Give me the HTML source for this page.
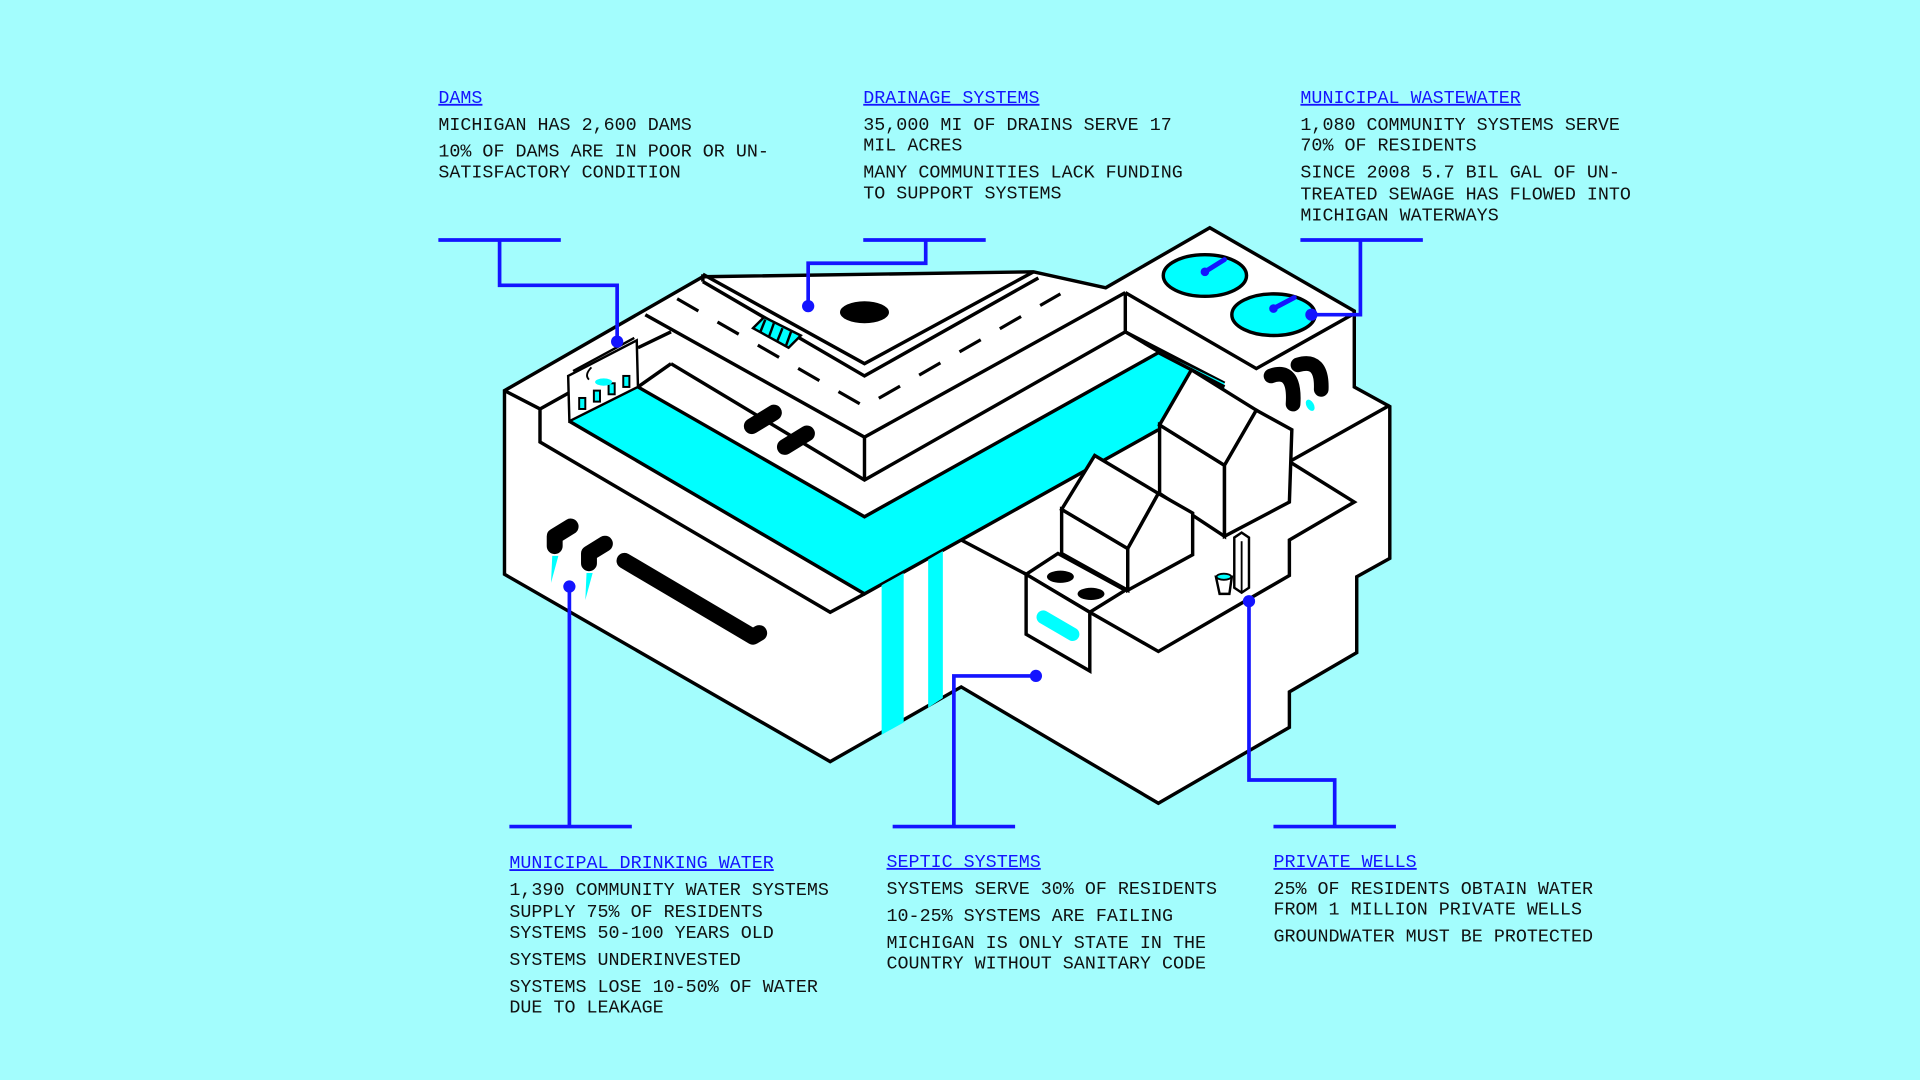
<!DOCTYPE html>
<html><head><meta charset="utf-8"><style>
html,body{margin:0;padding:0;background:#a3fdfd;}
svg{display:block}
text{font-family:"Liberation Mono",monospace;font-size:15px;fill:#111;}
.t{fill:#1414ff;text-decoration:underline;}
</style></head><body>
<svg width="1920" height="1080" viewBox="0 0 1568 882" preserveAspectRatio="none" xmlns="http://www.w3.org/2000/svg">
<rect width="1568" height="882" fill="#a3fdfd"/>
<g stroke="#000" stroke-width="2.8" stroke-linejoin="miter" fill="none">
<!-- base silhouette -->
<polygon fill="#fff" points="412,319 574,226 844,222 903,235 988,186 1106,254 1106,316 1135,332 1135,456 1108,471 1108,533 1053,565 1053,594 946,656 785,561 678,622 412,469"/>
<!-- wastewater block -->
<polyline points="919,239 1026,301 1106,256"/>
<line x1="919" y1="239" x2="919" y2="271"/>
<line x1="919" y1="271" x2="1000" y2="313"/>
<!-- road -->
<polyline points="527,257 706,357 919,239"/>
<line x1="706" y1="357" x2="706" y2="392"/>
<polyline points="574,224 706,297 844,222"/>
<polyline points="574,230 706,307 848,227"/>
<line x1="574" y1="224" x2="574" y2="230"/>
<polyline points="548,297 706,392 919,271"/>
<line x1="521" y1="284" x2="548" y2="271"/>
<!-- cyan channel -->
<polygon fill="#00ffff" stroke="none" points="465,344 521,316 706,422 946,287 1000,313 1000,330 946,351 785,441 706,485"/>
<polyline points="465,344 706,485 785,441 946,351"/>
<polyline points="521,316 706,422 946,288 1000,316"/>
<line x1="521" y1="316" x2="548" y2="297"/>
<line x1="919" y1="271" x2="946" y2="287"/>
<!-- ledge -->
<polyline points="412,319 441,334 441,361 678,500 706,485"/>
<line x1="441" y1="334" x2="466" y2="320"/>
<!-- waterfalls -->
<polygon fill="#00ffff" stroke="none" points="720,478 738,468 738,590 720,600"/>
<polygon fill="#00ffff" stroke="none" points="758,457 770,450 770,570 758,578"/>
<!-- dam -->
<polygon fill="#fff" stroke-width="2" points="464,307 520,278 521,316 465,344"/>
<line x1="468" y1="303" x2="518" y2="276" stroke-width="2"/>
<g fill="#00ffff" stroke-width="1.6">
<rect x="473" y="325" width="5" height="9"/><rect x="485" y="319" width="5" height="9"/><rect x="497" y="313" width="5" height="9"/><rect x="509" y="307" width="5" height="9"/>
</g>
<path d="M483,300 q-6,6 -2,10" stroke-width="1.5"/>
<ellipse cx="493" cy="312" rx="7" ry="3" fill="#00ffff" stroke="none"/>
<!-- dashed centerline -->
<polyline points="553,244 706,332 866,240" stroke-dasharray="20 18" stroke-width="2.6"/>
<ellipse cx="706" cy="255" rx="20" ry="9" fill="#000" stroke="none"/>
<!-- stairs -->
<polygon fill="#00ffff" stroke-width="2" points="615,268 624,259 654,274 644,284"/>
<g stroke-width="2"><line x1="625" y1="261" x2="621" y2="271"/><line x1="632" y1="264" x2="628" y2="275"/><line x1="639" y1="268" x2="635" y2="278"/><line x1="646" y1="271" x2="642" y2="282"/></g>
<!-- bank pipes -->
<g stroke-width="13" stroke-linecap="round">
<line x1="614" y1="348" x2="632" y2="337"/><line x1="641" y1="365" x2="659" y2="354"/>
</g>
<!-- left pipes -->
<g stroke-width="13" stroke-linecap="round" stroke-linejoin="round">
<polyline points="466,430 453,438 453,446"/>
<polyline points="494,444 481,452 481,460"/>
<polyline points="510,458 615,520 620,517"/>
</g>
<polygon fill="#00ffff" stroke="none" points="451,454 456,454 450,476"/>
<polygon fill="#00ffff" stroke="none" points="479,468 484,468 478,490"/>
<!-- right column / yard lines -->
<line x1="785" y1="441" x2="838" y2="469"/>
<line x1="1053" y1="377" x2="1135" y2="331"/>
<polyline points="1053,377 1106,410 1053,441 1053,470 946,532 890,500"/>
<!-- septic box -->
<polygon fill="#fff" points="838,469 864,452 919,482 890,500"/>
<polygon fill="#fff" points="838,469 890,500 890,548 838,518"/>
<ellipse cx="866" cy="471" rx="11" ry="5" fill="#000" stroke="none"/>
<ellipse cx="891" cy="485" rx="11" ry="5" fill="#000" stroke="none"/>
<line x1="852" y1="504" x2="876" y2="518" stroke="#00ffff" stroke-width="11" stroke-linecap="round"/>
<!-- house 2 (big) -->
<polygon fill="#fff" points="947,347 1000,380 1000,438 947,403"/>
<polygon fill="#fff" points="947,347 973,302 1026,335 1000,380"/>
<polygon fill="#fff" points="1000,380 1026,335 1055,351 1053,410 1000,438"/>
<!-- house 1 (small) -->
<polygon fill="#fff" points="867,416 921,448 921,482 867,452"/>
<polygon fill="#fff" points="867,416 894,372 946,403 921,448"/>
<polygon fill="#fff" points="921,448 946,403 974,419 974,453 921,482"/>
<!-- well -->
<polygon fill="#fff" stroke-width="2" points="1008,439 1014,435 1020,439 1020,480 1014,484 1008,480"/>
<line x1="1014" y1="442" x2="1014" y2="483" stroke-width="1.5"/>
<polygon fill="#fff" stroke-width="2" points="993,471 1006,471 1004,485 996,485"/>
<ellipse cx="999.5" cy="471" rx="6" ry="2.5" fill="#00ffff" stroke-width="1.5"/>
<!-- tanks -->
<ellipse cx="984" cy="225" rx="34" ry="17" fill="#00ffff"/>
<ellipse cx="1040" cy="257" rx="34" ry="17" fill="#00ffff"/>
<!-- right pipes -->
<g stroke-width="12" stroke-linecap="round">
<path d="M1038,307 Q1058,300 1056,330"/>
<path d="M1060,298 Q1080,292 1079,318"/>
</g>
<ellipse cx="1070" cy="331" rx="3" ry="5" fill="#00ffff" stroke="none" transform="rotate(-30 1070 331)"/>
</g>
<!-- rotors -->
<g stroke="#1414ff" stroke-linecap="round">
<line x1="984" y1="222" x2="1000" y2="212" stroke-width="4"/>
<circle cx="984" cy="222" r="3" fill="#1414ff"/>
<line x1="1040" y1="252" x2="1057" y2="243" stroke-width="4"/>
<circle cx="1040" cy="252" r="3" fill="#1414ff"/>
</g>
<!-- connectors -->
<g stroke="#1414ff" stroke-width="3" fill="none">
<line x1="358" y1="196" x2="458" y2="196"/><polyline points="408,196 408,233 504,233 504,279"/>
<line x1="705" y1="196" x2="805" y2="196"/><polyline points="756,196 756,215 660,215 660,250"/>
<line x1="1062" y1="196" x2="1162" y2="196"/><polyline points="1111,196 1111,257 1071,257"/>
<line x1="416" y1="675" x2="516" y2="675"/><polyline points="465,675 465,479"/>
<line x1="729" y1="675" x2="829" y2="675"/><polyline points="779,675 779,552 846,552"/>
<line x1="1040" y1="675" x2="1140" y2="675"/><polyline points="1090,675 1090,637 1020,637 1020,491"/>
</g>
<g fill="#1414ff">
<circle cx="504" cy="279" r="5"/><circle cx="660" cy="250" r="5"/><circle cx="1071" cy="257" r="5"/>
<circle cx="465" cy="479" r="5"/><circle cx="846" cy="552" r="5"/><circle cx="1020" cy="491" r="5"/>
</g>
<!-- text -->
<text x="358" y="84" class="t">DAMS</text>
<text x="358" y="106">MICHIGAN HAS 2,600 DAMS</text>
<text x="358" y="128">10% OF DAMS ARE IN POOR OR UN-</text>
<text x="358" y="145">SATISFACTORY CONDITION</text>

<text x="705" y="84" class="t">DRAINAGE SYSTEMS</text>
<text x="705" y="106">35,000 MI OF DRAINS SERVE 17</text>
<text x="705" y="123">MIL ACRES</text>
<text x="705" y="145">MANY COMMUNITIES LACK FUNDING</text>
<text x="705" y="162">TO SUPPORT SYSTEMS</text>

<text x="1062" y="84" class="t">MUNICIPAL WASTEWATER</text>
<text x="1062" y="106">1,080 COMMUNITY SYSTEMS SERVE</text>
<text x="1062" y="123">70% OF RESIDENTS</text>
<text x="1062" y="145">SINCE 2008 5.7 BIL GAL OF UN-</text>
<text x="1062" y="163">TREATED SEWAGE HAS FLOWED INTO</text>
<text x="1062" y="180">MICHIGAN WATERWAYS</text>

<text x="416" y="709" class="t">MUNICIPAL DRINKING WATER</text>
<text x="416" y="731">1,390 COMMUNITY WATER SYSTEMS</text>
<text x="416" y="749">SUPPLY 75% OF RESIDENTS</text>
<text x="416" y="766">SYSTEMS 50-100 YEARS OLD</text>
<text x="416" y="788">SYSTEMS UNDERINVESTED</text>
<text x="416" y="810">SYSTEMS LOSE 10-50% OF WATER</text>
<text x="416" y="827">DUE TO LEAKAGE</text>

<text x="724" y="708" class="t">SEPTIC SYSTEMS</text>
<text x="724" y="730">SYSTEMS SERVE 30% OF RESIDENTS</text>
<text x="724" y="752">10-25% SYSTEMS ARE FAILING</text>
<text x="724" y="774">MICHIGAN IS ONLY STATE IN THE</text>
<text x="724" y="791">COUNTRY WITHOUT SANITARY CODE</text>

<text x="1040" y="708" class="t">PRIVATE WELLS</text>
<text x="1040" y="730">25% OF RESIDENTS OBTAIN WATER</text>
<text x="1040" y="747">FROM 1 MILLION PRIVATE WELLS</text>
<text x="1040" y="769">GROUNDWATER MUST BE PROTECTED</text>
</svg>
</body></html>
